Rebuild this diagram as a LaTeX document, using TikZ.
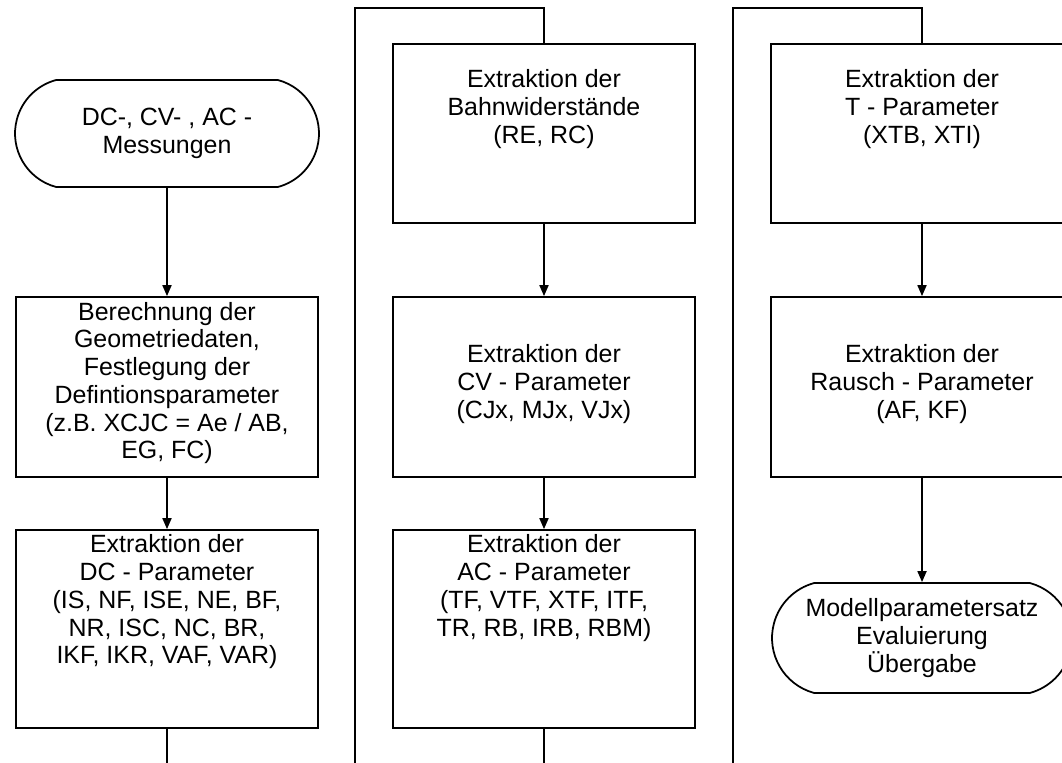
\documentclass[tikz,border=0pt]{standalone}
\usepackage{fontspec}
\setmainfont{Liberation Sans}
\usetikzlibrary{arrows.meta, shapes.misc}
\newcommand{\flowfont}{\fontsize{14.2}{15.8}\selectfont}

\begin{document}
\begin{tikzpicture}[
  x=0.02cm, y=-0.02cm,
  proc/.style={rectangle, draw, line width=1pt, minimum width=6.04cm, inner sep=0pt},
  term/.style={rounded rectangle, rounded rectangle arc length=150, draw, line width=1pt, minimum width=6.04cm, align=center, font=\flowfont, inner sep=0pt},
  lbl/.style={align=center, inner sep=0pt, font=\flowfont},
  flow/.style={-{Triangle[length=2.2mm, width=1.8mm]}, line width=1pt},
  link/.style={line width=1pt}
]
\useasboundingbox (0,0) rectangle (1062,763);

\node[term, minimum width=6.08cm, minimum height=2.14cm] (start) at (167,133.5) {DC-, CV- , AC -\\Messungen};
\node[proc, minimum height=3.6cm, label={[lbl, yshift=0.08cm]center:{Berechnung der\\Geometriedaten,\\Festlegung der\\Defintionsparameter\\(z.B. XCJC = Ae / AB,\\EG, FC)}}] (geo) at (167,387) {};
\node[proc, minimum height=3.96cm, label={[lbl, yshift=0.54cm]center:{Extraktion der\\DC - Parameter\\(IS, NF, ISE, NE, BF,\\NR, ISC, NC, BR,\\IKF, IKR, VAF, VAR)}}] (dc) at (167,629) {};

\node[proc, minimum height=3.58cm, label={[lbl, yshift=0.49cm]center:{Extraktion der\\Bahnwiderstände\\(RE, RC)}}] (bahn) at (544,133.5) {};
\node[proc, minimum height=3.6cm, label={[lbl, yshift=0.06cm]center:{Extraktion der\\CV - Parameter\\(CJx, MJx, VJx)}}] (cv) at (544,387) {};
\node[proc, minimum height=3.96cm, label={[lbl, yshift=0.82cm]center:{Extraktion der\\AC - Parameter\\(TF, VTF, XTF, ITF,\\TR, RB, IRB, RBM)}}] (ac) at (544,629) {};

\node[proc, minimum height=3.58cm, label={[lbl, yshift=0.49cm]center:{Extraktion der\\T - Parameter\\(XTB, XTI)}}] (temp) at (922,133.5) {};
\node[proc, minimum height=3.6cm, label={[lbl, yshift=0.06cm]center:{Extraktion der\\Rausch - Parameter\\(AF, KF)}}] (rausch) at (922,387) {};
\node[term, minimum width=6.0cm, minimum height=2.2cm] (ende) at (922,638) {Modellparametersatz\\Evaluierung\\Übergabe};

\coordinate (out1) at (167,770);
\coordinate (in2) at (355,770);
\coordinate (top2) at (544,8);
\coordinate (out2) at (544,770);
\coordinate (in3) at (733,770);
\coordinate (top3) at (922,8);

\draw[flow] (start) -- (geo);
\draw[flow] (geo) -- (dc);
\draw[link] (dc) -- (out1);
\draw[link] (in2) |- (top2) -- (bahn);
\draw[flow] (bahn) -- (cv);
\draw[flow] (cv) -- (ac);
\draw[link] (ac) -- (out2);
\draw[link] (in3) |- (top3) -- (temp);
\draw[flow] (temp) -- (rausch);
\draw[flow] (rausch) -- (ende);
\end{tikzpicture}
\end{document}
